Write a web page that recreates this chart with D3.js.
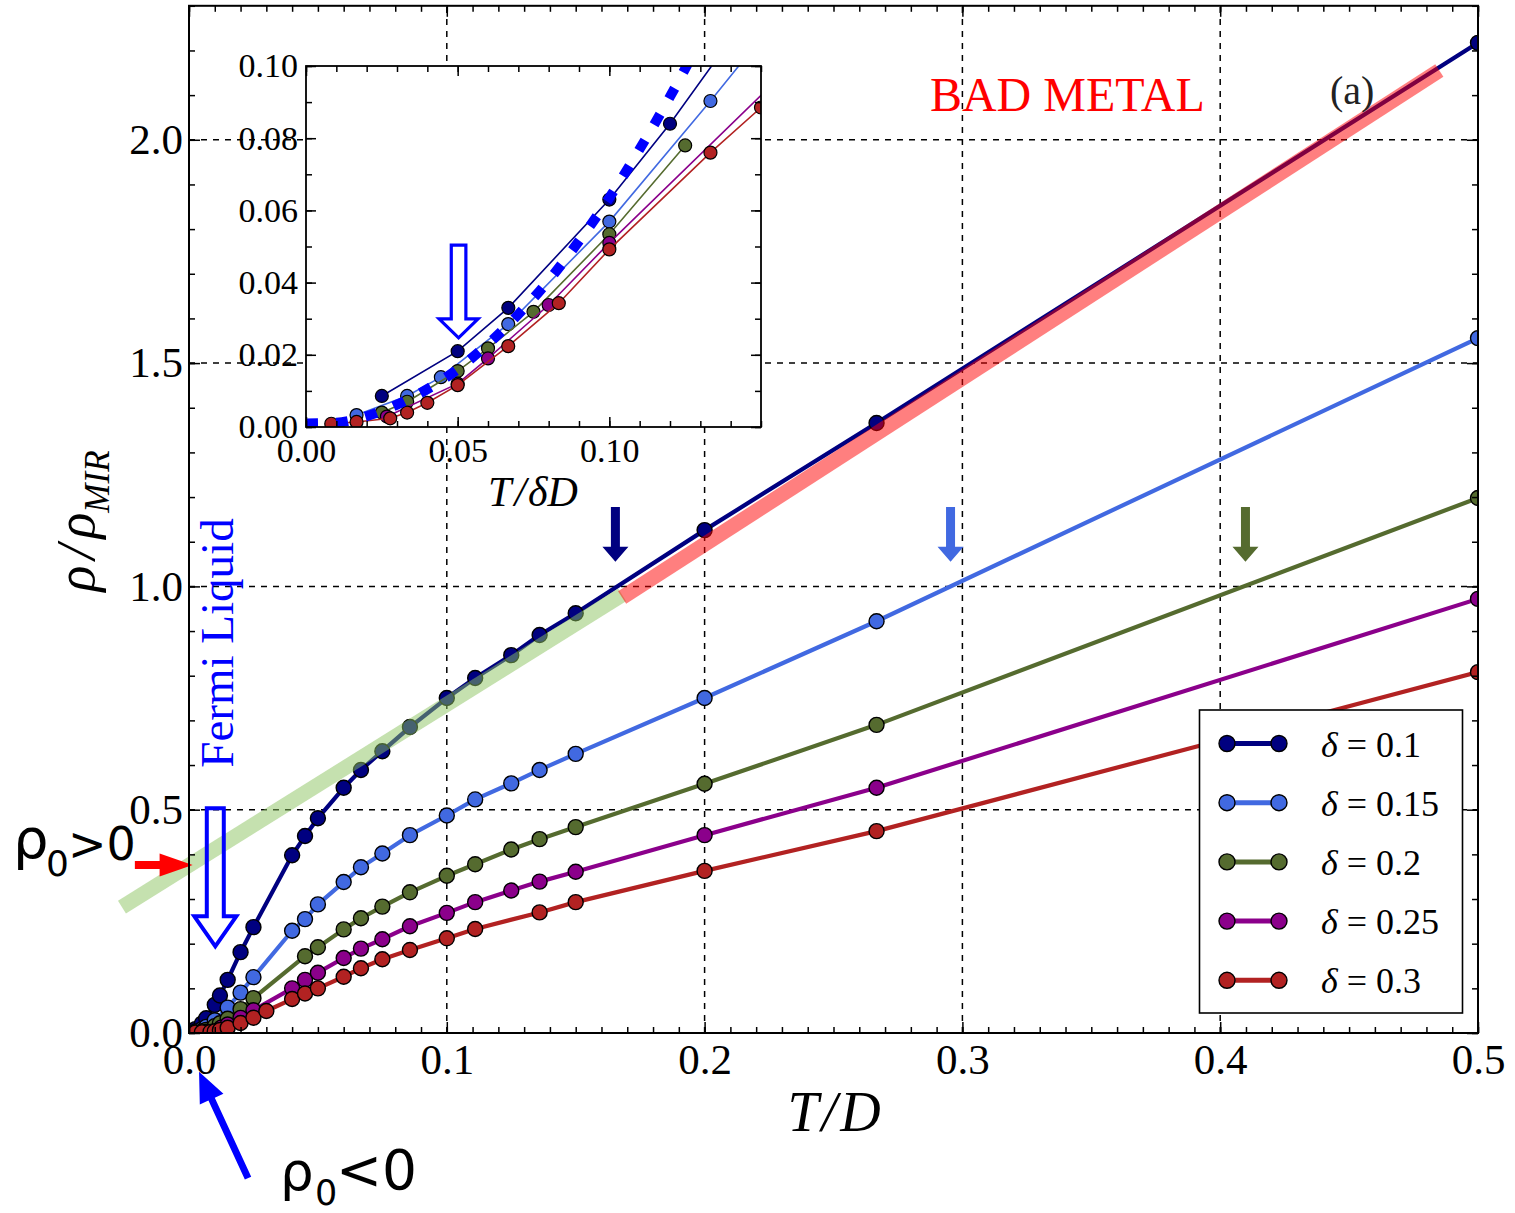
<!DOCTYPE html>
<html><head><meta charset="utf-8">
<script src="https://cdn.jsdelivr.net/npm/d3@7"></script>
<style>body{margin:0;background:#fff}svg{display:block}</style>
</head><body>
<svg id="c" width="1515" height="1213"></svg>
<script>
// ---------------- data ----------------
const deltaLabels = ["0.1", "0.15", "0.2", "0.25", "0.3"];
const deltaValues = [0.1, 0.15, 0.2, 0.25, 0.3];
const seriesColors = ["#000080", "#4169e1", "#556b2f", "#8b008b", "#b22222"];

const T_d010 = [0.0025, 0.005, 0.00667, 0.01, 0.012, 0.015, 0.02, 0.025, 0.04, 0.045, 0.05, 0.06, 0.0667, 0.075, 0.0857, 0.1, 0.111, 0.125, 0.136, 0.15, 0.2, 0.2667, 0.5];
const R_d010 = [0.0086, 0.021, 0.033, 0.063, 0.084, 0.119, 0.181, 0.237, 0.398, 0.441, 0.481, 0.549, 0.589, 0.631, 0.685, 0.750, 0.795, 0.846, 0.891, 0.940, 1.126, 1.366, 2.217];

const T_d015 = [0.0025, 0.005, 0.00667, 0.01, 0.015, 0.02, 0.025, 0.04, 0.045, 0.05, 0.06, 0.0667, 0.075, 0.0857, 0.1, 0.111, 0.125, 0.136, 0.15, 0.2, 0.2667, 0.5];
const R_d015 = [0.0033, 0.0086, 0.0138, 0.0285, 0.0569, 0.0903, 0.125, 0.229, 0.255, 0.288, 0.338, 0.371, 0.402, 0.443, 0.487, 0.523, 0.559, 0.589, 0.625, 0.750, 0.922, 1.556];

const T_d020 = [0.005, 0.00667, 0.01, 0.012, 0.015, 0.02, 0.025, 0.045, 0.05, 0.06, 0.0667, 0.075, 0.0857, 0.1, 0.111, 0.125, 0.136, 0.15, 0.2, 0.2667, 0.5];
const R_d020 = [0.004, 0.007, 0.0155, 0.0218, 0.0319, 0.0534, 0.078, 0.172, 0.192, 0.232, 0.257, 0.283, 0.315, 0.352, 0.378, 0.411, 0.434, 0.461, 0.558, 0.690, 1.198];

const T_d025 = [0.00667, 0.0125, 0.015, 0.02, 0.025, 0.04, 0.045, 0.05, 0.06, 0.0667, 0.075, 0.0857, 0.1, 0.111, 0.125, 0.136, 0.15, 0.2, 0.2667, 0.5];
const R_d025 = [0.0029, 0.012, 0.019, 0.0338, 0.051, 0.100, 0.119, 0.135, 0.168, 0.189, 0.210, 0.239, 0.269, 0.293, 0.319, 0.339, 0.361, 0.443, 0.549, 0.972];

const T_d030 = [0.0025, 0.005, 0.00833, 0.01, 0.012, 0.015, 0.02, 0.025, 0.03, 0.04, 0.045, 0.05, 0.06, 0.0667, 0.075, 0.0857, 0.1, 0.111, 0.136, 0.15, 0.2, 0.2667, 0.5];
const R_d030 = [0.0009, 0.0014, 0.0024, 0.004, 0.0067, 0.0116, 0.0224, 0.0343, 0.0492, 0.076, 0.0885, 0.100, 0.126, 0.145, 0.165, 0.186, 0.212, 0.233, 0.270, 0.293, 0.363, 0.452, 0.808];

// Fermi-liquid T^2 guide in the inset (x = T/deltaD)
const flX = [0.000, 0.010, 0.020, 0.030, 0.040, 0.050, 0.060, 0.070, 0.080, 0.090, 0.100, 0.110, 0.120, 0.128];
const flY = [0.001, 0.0012, 0.003, 0.0062, 0.0105, 0.0160, 0.0230, 0.0312, 0.0406, 0.0515, 0.0635, 0.0770, 0.0915, 0.1040];

// linear guides (T/D, rho/rhoMIR)
const fermiBandT = [-0.026, 0.168];
const fermiBandR = [0.282, 0.981];
const badBandT = [0.168, 0.485];
const badBandR = [0.975, 2.155];

// crossing arrows (T/D where rho = rhoMIR)
const crossT = [0.1654, 0.2954, 0.4098];

// ticks
const xMajor = [0, 0.1, 0.2, 0.3, 0.4, 0.5];
const yMajor = [0, 0.5, 1.0, 1.5, 2.0];
const xiMajor = [0, 0.05, 0.10];
const yiMajor = [0, 0.02, 0.04, 0.06, 0.08, 0.10];

const Ts = [T_d010, T_d015, T_d020, T_d025, T_d030];
const Rs = [R_d010, R_d015, R_d020, R_d025, R_d030];

// ---------------- setup ----------------
const svg = d3.select("#c");
const SERIF = "'Liberation Serif', 'Times New Roman', serif";
const SANS = "'DejaVu Sans', sans-serif";

const x = d3.scaleLinear().domain([0, 0.5]).range([189, 1478]);
const y = d3.scaleLinear().domain([0, 2.3]).range([1033, 5.8]);
const xi = d3.scaleLinear().domain([0, 0.15]).range([306, 761]);
const yi = d3.scaleLinear().domain([0, 0.10]).range([427, 66]);

const defs = svg.append("defs");
defs.append("clipPath").attr("id", "clipMain").append("rect")
  .attr("x", x(0)).attr("y", y(2.3)).attr("width", x(0.5) - x(0)).attr("height", y(0) - y(2.3));
defs.append("clipPath").attr("id", "clipIn").append("rect")
  .attr("x", xi(0)).attr("y", yi(0.1)).attr("width", xi(0.15) - xi(0)).attr("height", yi(0) - yi(0.1));

// ---------------- main grid ----------------
const grid = svg.append("g").attr("stroke", "#000").attr("stroke-width", 1.5).attr("stroke-dasharray", "6,6");
xMajor.filter(v => v > 0 && v < 0.5).forEach(v => grid.append("line").attr("x1", x(v)).attr("x2", x(v)).attr("y1", y(0)).attr("y2", y(2.3)));
yMajor.filter(v => v > 0).forEach(v => grid.append("line").attr("x1", x(0)).attr("x2", x(0.5)).attr("y1", y(v)).attr("y2", y(v)));

// ---------------- main series ----------------
const gMain = svg.append("g").attr("clip-path", "url(#clipMain)");
const lineMain = d3.line().x(d => x(d[0])).y(d => y(d[1]));
Ts.forEach((T, i) => {
  const pts = T.map((t, j) => [t, Rs[i][j]]);
  gMain.append("path").datum(pts).attr("d", lineMain).attr("fill", "none")
    .attr("stroke", seriesColors[i]).attr("stroke-width", 4.2).attr("stroke-linejoin", "round");
  gMain.append("g").selectAll("circle").data(pts).join("circle")
    .attr("cx", d => x(d[0])).attr("cy", d => y(d[1])).attr("r", 7.5)
    .attr("fill", seriesColors[i]).attr("stroke", "#000").attr("stroke-width", 1.4);
});

// ---------------- bands ----------------
const bandLine = d3.line().x(d => x(d[0])).y(d => y(d[1]));
svg.append("path").datum(fermiBandT.map((t, j) => [t, fermiBandR[j]])).attr("d", bandLine)
  .attr("stroke", "rgb(140,195,95)").attr("stroke-opacity", 0.5).attr("stroke-width", 15).attr("fill", "none");
svg.append("path").datum(badBandT.map((t, j) => [t, badBandR[j]])).attr("d", bandLine)
  .attr("stroke", "rgb(255,0,0)").attr("stroke-opacity", 0.5).attr("stroke-width", 15).attr("fill", "none");

// ---------------- arrows ----------------
function arrowPts(x0, y0, x1, y1, sw, hw, hl) {
  const dx = x1 - x0, dy = y1 - y0, L = Math.hypot(dx, dy), ux = dx / L, uy = dy / L, nx = -uy, ny = ux;
  const bx = x1 - ux * hl, by = y1 - uy * hl;
  return [[x0 + nx * sw / 2, y0 + ny * sw / 2], [bx + nx * sw / 2, by + ny * sw / 2], [bx + nx * hw / 2, by + ny * hw / 2],
          [x1, y1], [bx - nx * hw / 2, by - ny * hw / 2], [bx - nx * sw / 2, by - ny * sw / 2], [x0 - nx * sw / 2, y0 - ny * sw / 2]];
}
const poly = p => p.map(q => q.join(",")).join(" ");

crossT.forEach((t, i) => {
  svg.append("polygon").attr("points", poly(arrowPts(x(t), y(1.178), x(t), y(1.055), 9, 26, 15)))
    .attr("fill", seriesColors[i]);
});
// Fermi liquid hollow arrow
svg.append("polygon").attr("points", poly(arrowPts(x(0.0102), y(0.503), x(0.0102), y(0.194), 17, 42, 30)))
  .attr("fill", "none").attr("stroke", "#0000ff").attr("stroke-width", 4).attr("stroke-linejoin", "miter");
// red arrow (rho0 > 0)
svg.append("polygon").attr("points", poly(arrowPts(x(-0.021), y(0.376), x(0.0014), y(0.376), 8, 23, 33)))
  .attr("fill", "#ff0000");
// blue arrow (rho0 < 0)
svg.append("polygon").attr("points", poly(arrowPts(x(0.0229), y(-0.325), x(0.0039), y(-0.087), 7, 26, 30)))
  .attr("fill", "#0000ff");

// ---------------- main frame & ticks ----------------
function styleAxis(g, size) {
  g.select(".domain").remove();
  g.attr("font-family", SERIF).attr("font-size", size);
  g.selectAll("line").attr("stroke", "#000").attr("stroke-width", 1.5);
  g.selectAll("text").attr("fill", "#000");
}
const xMinorVals = d3.range(0, 51).map(i => i / 100);
const yMinorVals = d3.range(0, 24).map(i => i / 10);
svg.append("g").attr("transform", `translate(0,${y(0)})`)
  .call(d3.axisBottom(x).tickValues(xMajor).tickFormat(d3.format(".1f")).tickSizeInner(-11).tickSizeOuter(0).tickPadding(10))
  .call(g => styleAxis(g, 43));
svg.append("g").attr("transform", `translate(0,${y(0)})`)
  .call(d3.axisBottom(x).tickValues(xMinorVals).tickFormat(() => "").tickSizeInner(-6).tickSizeOuter(0)).call(g => styleAxis(g, 10));
svg.append("g").attr("transform", `translate(0,${y(2.3)})`)
  .call(d3.axisTop(x).tickValues(xMajor).tickFormat(() => "").tickSizeInner(-11).tickSizeOuter(0)).call(g => styleAxis(g, 10));
svg.append("g").attr("transform", `translate(0,${y(2.3)})`)
  .call(d3.axisTop(x).tickValues(xMinorVals).tickFormat(() => "").tickSizeInner(-6).tickSizeOuter(0)).call(g => styleAxis(g, 10));
svg.append("g").attr("transform", `translate(${x(0)},0)`)
  .call(d3.axisLeft(y).tickValues(yMajor).tickFormat(d3.format(".1f")).tickSizeInner(-11).tickSizeOuter(0).tickPadding(6))
  .call(g => styleAxis(g, 43));
svg.append("g").attr("transform", `translate(${x(0)},0)`)
  .call(d3.axisLeft(y).tickValues(yMinorVals).tickFormat(() => "").tickSizeInner(-6).tickSizeOuter(0)).call(g => styleAxis(g, 10));
svg.append("g").attr("transform", `translate(${x(0.5)},0)`)
  .call(d3.axisRight(y).tickValues(yMajor).tickFormat(() => "").tickSizeInner(-11).tickSizeOuter(0)).call(g => styleAxis(g, 10));
svg.append("g").attr("transform", `translate(${x(0.5)},0)`)
  .call(d3.axisRight(y).tickValues(yMinorVals).tickFormat(() => "").tickSizeInner(-6).tickSizeOuter(0)).call(g => styleAxis(g, 10));
svg.append("rect").attr("x", x(0)).attr("y", y(2.3)).attr("width", x(0.5) - x(0)).attr("height", y(0) - y(2.3))
  .attr("fill", "none").attr("stroke", "#000").attr("stroke-width", 2);

// axis labels
svg.append("text").attr("x", 834).attr("y", 1131).attr("text-anchor", "middle")
  .attr("font-family", SERIF).attr("font-style", "italic").attr("font-size", 56)
  .call(t => { t.append("tspan").text("T"); t.append("tspan").attr("dx", 3).text("/"); t.append("tspan").attr("dx", 3).text("D"); });
svg.append("text").attr("transform", "translate(94,521) rotate(-90)").attr("text-anchor", "middle")
  .attr("font-family", SERIF).attr("font-style", "italic").attr("font-size", 54)
  .call(t => {
    t.append("tspan").text("ρ"); t.append("tspan").attr("dx", 6).text("/"); t.append("tspan").attr("dx", 6).text("ρ");
    t.append("tspan").attr("font-size", 35).attr("dy", 15).text("MIR");
  });

// ---------------- legend ----------------
const leg = svg.append("g");
leg.append("rect").attr("x", 1199.5).attr("y", 710).attr("width", 263).attr("height", 303)
  .attr("fill", "#fff").attr("stroke", "#000").attr("stroke-width", 1.6);
deltaLabels.forEach((lab, i) => {
  const cy = 743.5 + i * 59.2;
  leg.append("line").attr("x1", 1227).attr("x2", 1279).attr("y1", cy).attr("y2", cy)
    .attr("stroke", seriesColors[i]).attr("stroke-width", 5);
  [1227, 1279].forEach(cx => leg.append("circle").attr("cx", cx).attr("cy", cy).attr("r", 8)
    .attr("fill", seriesColors[i]).attr("stroke", "#000").attr("stroke-width", 1.4));
  leg.append("text").attr("x", 1321).attr("y", cy + 13).attr("font-family", SERIF).attr("font-size", 36)
    .call(t => { t.append("tspan").attr("font-style", "italic").text("δ"); t.append("tspan").text(" = " + lab); });
});

// ---------------- annotation texts ----------------
svg.append("text").attr("transform", "translate(233,643) rotate(-90)").attr("text-anchor", "middle")
  .attr("font-family", SERIF).attr("font-size", 47).attr("fill", "#0000ff").text("Fermi Liquid");
svg.append("text").attr("x", x(0.2874)).attr("y", y(2.064)).attr("font-family", SERIF).attr("font-size", 48)
  .attr("fill", "#ff0000").text("BAD METAL");
svg.append("text").attr("x", 1330).attr("y", 104).attr("font-family", SERIF).attr("font-size", 40)
  .attr("fill", "#222").text("(a)");

// rho0 > 0
svg.append("text").attr("x", 13).attr("y", 858).attr("font-family", SANS).attr("font-size", 56).text("ρ");
svg.append("text").attr("x", 46).attr("y", 876).attr("font-family", SANS).attr("font-size", 36).text("0");
svg.append("text").attr("x", 68).attr("y", 860).attr("font-family", SANS).attr("font-size", 46).text(">0");
// rho0 < 0
svg.append("text").attr("x", 280).attr("y", 1190).attr("font-family", SANS).attr("font-size", 53).text("ρ");
svg.append("text").attr("x", 315).attr("y", 1205).attr("font-family", SANS).attr("font-size", 35).text("0");
svg.append("text").attr("x", 336).attr("y", 1189).attr("font-family", SANS).attr("font-size", 55).text("<0");

// ---------------- inset ----------------
const gin = svg.append("g");
gin.append("rect").attr("x", xi(0)).attr("y", yi(0.1)).attr("width", xi(0.15) - xi(0)).attr("height", yi(0) - yi(0.1))
  .attr("fill", "#fff");
const gInData = gin.append("g").attr("clip-path", "url(#clipIn)");
const lineIn = d3.line().x(d => xi(d[0])).y(d => yi(d[1]));
Ts.forEach((T, i) => {
  const pts = T.map((t, j) => [t / deltaValues[i], Rs[i][j]]).filter(d => d[0] <= 0.2);
  gInData.append("path").datum(pts).attr("d", lineIn).attr("fill", "none")
    .attr("stroke", seriesColors[i]).attr("stroke-width", 1.6);
  gInData.append("g").selectAll("circle").data(pts).join("circle")
    .attr("cx", d => xi(d[0])).attr("cy", d => yi(d[1])).attr("r", 6.5)
    .attr("fill", seriesColors[i]).attr("stroke", "#000").attr("stroke-width", 1.2);
});
gInData.append("path").datum(flX.map((v, j) => [v, flY[j]])).attr("d", d3.line().x(d => xi(d[0])).y(d => yi(d[1])).curve(d3.curveMonotoneX))
  .attr("fill", "none").attr("stroke", "#0000ff").attr("stroke-width", 10).attr("stroke-dasharray", "12,18");
// inset hollow arrow
gin.append("polygon").attr("points", poly(arrowPts(xi(0.0503), yi(0.0504), xi(0.0503), yi(0.0247), 14.6, 39, 19)))
  .attr("fill", "#fff").attr("stroke", "#0000ff").attr("stroke-width", 3.2);

const xiMinor = d3.range(0, 16).map(i => i / 100);
const yiMinor = d3.range(0, 11).map(i => i / 100);
gin.append("g").attr("transform", `translate(0,${yi(0)})`)
  .call(d3.axisBottom(xi).tickValues(xiMajor).tickFormat(d3.format(".2f")).tickSizeInner(-10).tickSizeOuter(0).tickPadding(11))
  .call(g => styleAxis(g, 34));
gin.append("g").attr("transform", `translate(0,${yi(0)})`)
  .call(d3.axisBottom(xi).tickValues(xiMinor).tickFormat(() => "").tickSizeInner(-6).tickSizeOuter(0)).call(g => styleAxis(g, 10));
gin.append("g").attr("transform", `translate(0,${yi(0.1)})`)
  .call(d3.axisTop(xi).tickValues(xiMinor).tickFormat(() => "").tickSizeInner(-6).tickSizeOuter(0)).call(g => styleAxis(g, 10));
gin.append("g").attr("transform", `translate(0,${yi(0.1)})`)
  .call(d3.axisTop(xi).tickValues(xiMajor).tickFormat(() => "").tickSizeInner(-10).tickSizeOuter(0)).call(g => styleAxis(g, 10));
gin.append("g").attr("transform", `translate(${xi(0)},0)`)
  .call(d3.axisLeft(yi).tickValues(yiMajor).tickFormat(d3.format(".2f")).tickSizeInner(-10).tickSizeOuter(0).tickPadding(8))
  .call(g => styleAxis(g, 34));
gin.append("g").attr("transform", `translate(${xi(0)},0)`)
  .call(d3.axisLeft(yi).tickValues(yiMinor).tickFormat(() => "").tickSizeInner(-6).tickSizeOuter(0)).call(g => styleAxis(g, 10));
gin.append("g").attr("transform", `translate(${xi(0.15)},0)`)
  .call(d3.axisRight(yi).tickValues(yiMajor).tickFormat(() => "").tickSizeInner(-10).tickSizeOuter(0)).call(g => styleAxis(g, 10));
gin.append("g").attr("transform", `translate(${xi(0.15)},0)`)
  .call(d3.axisRight(yi).tickValues(yiMinor).tickFormat(() => "").tickSizeInner(-6).tickSizeOuter(0)).call(g => styleAxis(g, 10));
gin.append("rect").attr("x", xi(0)).attr("y", yi(0.1)).attr("width", xi(0.15) - xi(0)).attr("height", yi(0) - yi(0.1))
  .attr("fill", "none").attr("stroke", "#000").attr("stroke-width", 1.8);
gin.append("text").attr("x", 533).attr("y", 506).attr("text-anchor", "middle")
  .attr("font-family", SERIF).attr("font-style", "italic").attr("font-size", 42)
  .call(t => { t.append("tspan").text("T"); t.append("tspan").attr("dx", 3).text("/"); t.append("tspan").attr("dx", 2).text("δD"); });
</script>
</body></html>
